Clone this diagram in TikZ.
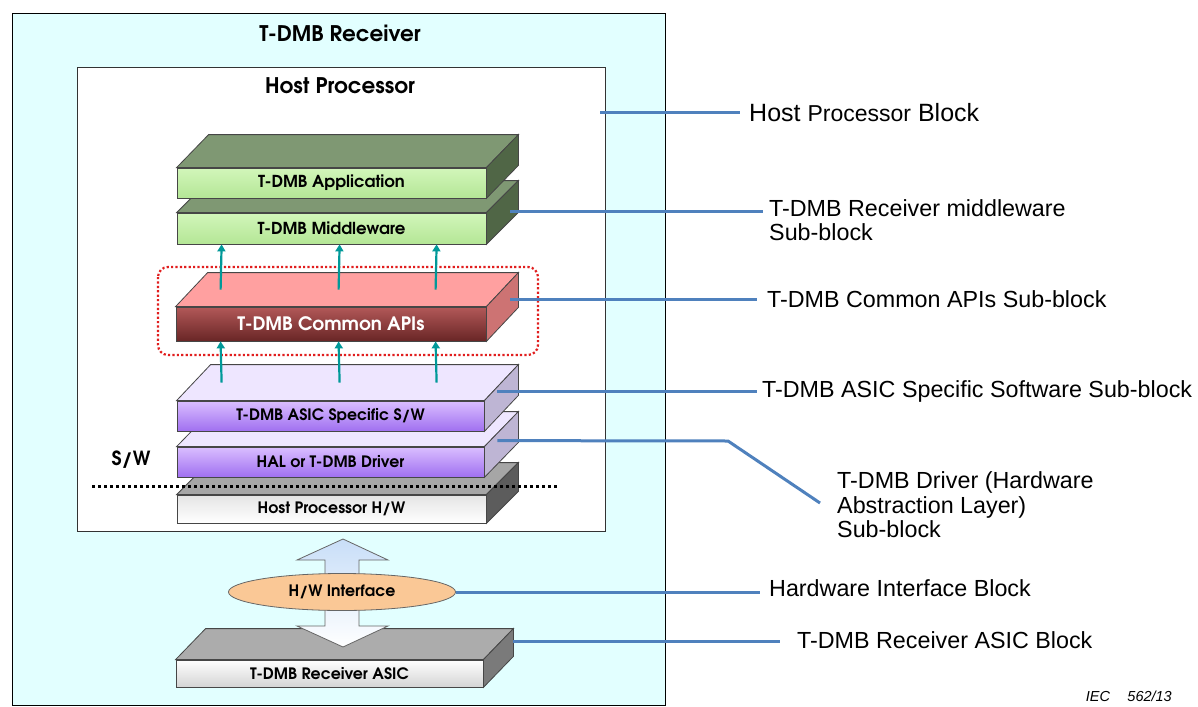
\documentclass[tikz,border=0pt]{standalone}
\usepackage{fontspec}
\setmainfont{Liberation Sans}
\newfontfamily\gothic{TeX Gyre Adventor}
\usetikzlibrary{shapes.geometric,arrows.meta,calc}
\definecolor{rcvbg}{RGB}{226,255,255}
\definecolor{leadc}{RGB}{79,129,189}
\definecolor{tealc}{RGB}{0,153,153}
\definecolor{slabedge}{RGB}{70,70,70}
\definecolor{gfT}{RGB}{210,246,186}
\definecolor{gfB}{RGB}{180,230,150}
\definecolor{gtop}{RGB}{127,152,115}
\definecolor{gside}{RGB}{80,102,70}
\definecolor{rfT}{RGB}{178,88,88}
\definecolor{rfB}{RGB}{105,38,38}
\definecolor{rtop}{RGB}{255,160,160}
\definecolor{rside}{RGB}{205,115,115}
\definecolor{pfT}{RGB}{218,190,255}
\definecolor{pfB}{RGB}{160,112,240}
\definecolor{ptop}{RGB}{238,230,255}
\definecolor{pside}{RGB}{190,181,212}
\definecolor{hwtop}{RGB}{166,166,166}
\definecolor{hwside}{RGB}{92,92,92}
\definecolor{astop}{RGB}{172,172,172}
\definecolor{asside}{RGB}{122,122,122}
\definecolor{ellf}{RGB}{250,200,150}
\definecolor{arrT}{RGB}{200,222,248}
\definecolor{dotred}{RGB}{225,30,30}
\newcommand\slabfaces[5]{%
  \filldraw[draw=slabedge,line width=0.8pt,fill=#4] (#1.north west) -- ([shift={(#2,-#3)}]#1.north west) -- ([shift={(#2,-#3)}]#1.north east) -- (#1.north east) -- cycle;
  \filldraw[draw=slabedge,line width=0.8pt,fill=#5] (#1.north east) -- ([shift={(#2,-#3)}]#1.north east) -- ([shift={(#2,-#3)}]#1.south east) -- (#1.south east) -- cycle;
}
\begin{document}
\begin{tikzpicture}[x=1pt,y=-1pt,
  slab/.style={draw=slabedge,line width=0.8pt,rectangle,inner sep=0pt,font=\gothic\bfseries\fontsize{16.5}{17}\selectfont},
  small/.style={font=\gothic\bfseries\fontsize{15.7}{16}\selectfont},
  title/.style={font=\gothic\bfseries\fontsize{21.5}{22}\selectfont},
  uparr/.style={draw=tealc,line width=2.2pt,-{Triangle[width=8pt,length=7pt]}},
  leader/.style={draw=leadc,line width=3pt},
  lbl/.style={anchor=west,inner sep=0pt,align=left,font=\fontsize{23.3}{24.5}\selectfont}]
\useasboundingbox (0,0) rectangle (1198,706);
% outer boxes
\draw[fill=rcvbg,line width=0.8pt] (12,13) rectangle (665,705);
\node[title] (rcvtitle) at (340,33) {T-DMB Receiver};
\draw[fill=white,draw=black!80,line width=0.8pt] (77,67) rectangle (605,531);
\node[title] (hosttitle) at (340,86) {Host Processor};
% green slabs
\node[slab,minimum width=309,minimum height=31,top color=gfT,bottom color=gfB] (mw) at (331.5,228.5) {T-DMB Middleware};
\slabfaces{mw}{32}{32}{gtop}{gside}
\node[slab,minimum width=309,minimum height=30,top color=gfT,bottom color=gfB] (app) at (331.5,183) {T-DMB Application};
\slabfaces{app}{32}{33}{gtop}{gside}
% common apis
\node[slab,minimum width=310,minimum height=34,top color=rfT,bottom color=rfB,text=white,font=\gothic\bfseries\fontsize{18.5}{19}\selectfont] (api) at (331,324) {T-DMB Common APIs};
\slabfaces{api}{32}{34}{rtop}{rside}
\draw[dotred,line width=2.2pt,dash pattern=on 2.2pt off 2.2pt,rounded corners=10pt] (158,267) rectangle (538,355);
% lower slabs
\node[slab,small,minimum width=309,minimum height=28,top color={rgb,255:red,228;green,228;blue,228},bottom color=white] (hw) at (331.5,509) {Host Processor H/W};
\slabfaces{hw}{32}{32}{hwtop}{hwside}
\node[slab,small,minimum width=307,minimum height=30,top color=pfT,bottom color=pfB] (hal) at (330.5,462) {HAL or T-DMB Driver};
\slabfaces{hal}{34}{35}{ptop}{pside}
\node[slab,small,minimum width=307,minimum height=30,top color=pfT,bottom color=pfB] (asw) at (330.5,416) {T-DMB ASIC Specific S/W};
\slabfaces{asw}{34}{36}{ptop}{pside}
% arrows
\foreach \dx in {45,163,260} {
  \draw[uparr] ([xshift=\dx pt,yshift=17pt]api.north west) -- ([xshift=\dx pt]mw.south west);
  \draw[uparr] ([xshift=\dx pt,yshift=18pt]asw.north west) -- ([xshift=\dx pt]api.south west);
}
% S/W
\node[font=\gothic\bfseries\fontsize{19.5}{20}\selectfont] (sw) at (131,460) {S/W};
\draw[line width=3pt,dash pattern=on 3pt off 3pt] (92,486) -- (558,486);
% receiver ASIC
\node[slab,small,minimum width=307,minimum height=27,top color=white,bottom color={rgb,255:red,212;green,212;blue,212}] (ras) at (329.5,673.5) {T-DMB Receiver ASIC};
\slabfaces{ras}{30}{31}{astop}{asside}
% double arrow
\draw[draw=black!60,line width=0.8pt,top color=arrT,bottom color=white]
  (343,539) -- (388,560) -- (359,560) -- (359,626) -- (388,626) -- (343,647)
  -- (297,626) -- (325,626) -- (325,560) -- (297,560) -- cycle;
\node[ellipse,small,draw=black!60,line width=0.8pt,fill=ellf,minimum width=227,minimum height=37,inner sep=0pt] (hwi) at (342,592) {H/W Interface};
% labels
\node[lbl] (l1) at (749,113) {\fontsize{25}{26}\selectfont Host {\fontsize{23}{24}\selectfont Processor} Block};
\node[lbl] (l2) at (769,220) {T-DMB Receiver middleware\\Sub-block};
\node[lbl] (l3) at (767,299) {T-DMB Common APIs Sub-block};
\node[lbl] (l4) at (762,391) {T-DMB ASIC Specific Software Sub-block};
\node[lbl] (l5) at (837,505) {T-DMB Driver (Hardware\\Abstraction Layer)\\Sub-block};
\node[lbl] (l6) at (769,588) {Hardware Interface Block};
\node[lbl] (l7) at (797,640) {T-DMB Receiver ASIC Block};
\node[anchor=east,inner sep=0pt,font=\itshape\fontsize{14.5}{15}\selectfont] (iec) at (1172,696) {IEC\hspace{1.2em}562/13};
% leader lines
\coordinate (s1) at (600,113);
\coordinate (s2) at ([shift={(24,-1)}]mw.north east);
\coordinate (s3) at ([shift={(24,-7)}]api.north east);
\coordinate (s4) at ([shift={(13,-9)}]asw.north east);
\coordinate (s5) at ([shift={(13,-6)}]hal.north east);
\coordinate (b5) at (728,441);
\coordinate (e5) at (820,503);
\coordinate (s7) at ([shift={(30,-46)}]ras.south east);
\draw[leader] (s1) -- ([xshift=-9pt]s1 -| l1.west);
\draw[leader] (s2) -- ([xshift=-6pt]s2 -| l2.west);
\draw[leader] (s3) -- ([xshift=-10pt]s3 -| l3.west);
\draw[leader] (s4) -- ([xshift=-5pt]s4 -| l4.west);
\draw[leader] (s5) -- (b5) -- (e5);
\draw[leader] (hwi.east) -- ([xshift=-9pt]hwi.east -| l6.west);
\draw[leader] (s7) -- ([xshift=-17pt]s7 -| l7.west);
\end{tikzpicture}
\end{document}
